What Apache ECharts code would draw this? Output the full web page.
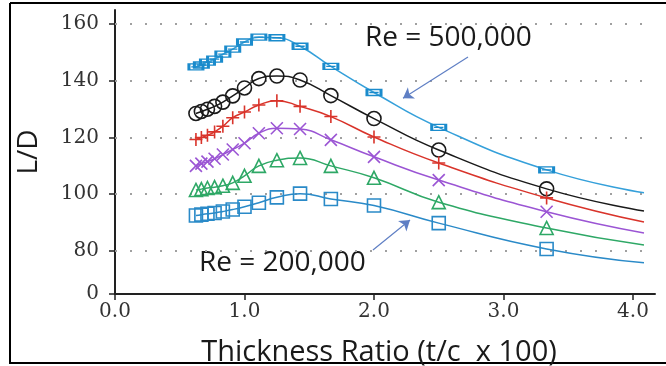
<!DOCTYPE html>
<html>
<head>
<meta charset="utf-8">
<script src="https://cdn.jsdelivr.net/npm/echarts@6/dist/echarts.min.js"></script>
<style>
html, body { margin: 0; padding: 0; background: #fff; }
#chart { width: 666px; height: 366px; }
</style>
</head>
<body>
<div id="chart"></div>
<script>
// t/c x 100 of the measured airfoils
const thickness = [0.625, 0.667, 0.714, 0.769, 0.833, 0.909, 1.0, 1.111, 1.25, 1.429, 1.667, 2.0, 2.5, 3.333];
// fitted curves run on past the last airfoil
const curveEndX = 4.085;

// L/D per Reynolds number, top (500,000) to bottom (200,000)
const ld500 = [144.9, 145.6, 146.6, 147.7, 149.4, 151.2, 153.7, 155.4, 155.2, 152.2, 145.1, 135.9, 123.6, 108.6];
const ld440 = [128.5, 129.2, 130.0, 131.0, 132.5, 134.7, 137.5, 140.8, 141.7, 140.3, 134.8, 126.7, 115.6, 101.9];
const ld380 = [119.3, 120.0, 120.8, 122.0, 124.0, 127.0, 129.0, 131.5, 133.0, 131.0, 127.4, 120.2, 111.0, 98.7];
const ld320 = [110.0, 110.8, 111.5, 112.5, 114.0, 115.8, 118.0, 121.5, 123.3, 123.0, 119.2, 113.2, 105.0, 93.8];
const ld260 = [101.5, 101.8, 102.2, 102.5, 103.0, 104.0, 106.5, 110.0, 112.0, 112.8, 110.0, 105.8, 97.2, 88.1];
const ld200 = [92.5, 92.8, 93.1, 93.4, 93.9, 94.6, 95.6, 97.0, 98.9, 100.2, 98.3, 96.0, 89.8, 80.7];
// where each fitted curve ends at the right
const curveEnd = [100.5, 94.1, 90.2, 86.3, 82.1, 75.8];

const xTicks = [0, 1, 2, 3, 4];
const yTicks = [80, 100, 120, 140, 160];
const yBreak = 64.8; // axis is broken: this spot is labelled "0"

// arrows from the annotations to the curves
const arrow500 = [[2.726, 148.4], [2.224, 133.9]];
const arrow200 = [[1.992, 80.35], [2.278, 90.9]];

const chart = echarts.init(document.getElementById('chart'));

const styles = [
    { color: '#1a8bcc', line: '#35a0da', symbol: 'path://M0,0H12V5H0ZM2,2.5H10', size: [14, 6], border: 2 },
    { color: '#1a1a1a', line: '#1a1a1a', symbol: 'circle', size: 14, border: 1.6 },
    { color: '#d9342b', line: '#d9342b', symbol: 'path://M5,0V10M0,5H10', size: 13, border: 1.6 },
    { color: '#9b55d4', line: '#9b55d4', symbol: 'path://M0,0L10,10M10,0L0,10', size: 12, border: 1.6 },
    { color: '#2ea866', line: '#2ea866', symbol: 'triangle', size: 13, border: 1.6 },
    { color: '#2a8ac8', line: '#2a8ac8', symbol: 'rect', size: 13, border: 1.6 }
];
const allData = [ld500, ld440, ld380, ld320, ld260, ld200];

function arrowLine(pts) {
    return [{ coord: pts[0] }, { coord: pts[1] }];
}

const series = allData.map((vals, i) => {
    const st = styles[i];
    const data = thickness.map((x, k) => [x, vals[k]]);
    data.push({ value: [curveEndX, curveEnd[i]], symbol: 'none' });
    const s = {
        type: 'line',
        data: data,
        smooth: 0.5,
        symbol: st.symbol,
        symbolSize: st.size,
        showAllSymbol: true,
        lineStyle: { color: st.line, width: 1.5 },
        itemStyle: { color: 'rgba(0,0,0,0)', borderColor: st.color, borderWidth: st.border },
        emphasis: { disabled: true },
        z: 3
    };
    if (i === 0) {
        s.markLine = {
            silent: true,
            symbol: ['none', 'arrow'],
            symbolSize: 10,
            label: { show: false },
            lineStyle: { color: '#5f7fc4', width: 1.2, type: 'solid' },
            data: [arrowLine(arrow500), arrowLine(arrow200)]
        };
    }
    if (i === 5) {
        // dotted grid lines
        s.markLine = {
            silent: true,
            z: 1,
            symbol: 'none',
            label: { show: false },
            lineStyle: { color: '#a0a0a0', width: 2, type: [2, 13] },
            data: yTicks.map(v => ({ yAxis: v }))
        };
    }
    return s;
});

const option = {
    animation: false,
    grid: { left: 115, right: 11, top: 10, bottom: 72 },
    xAxis: {
        type: 'value',
        min: 0,
        max: 4.17,
        axisLine: { lineStyle: { color: '#222', width: 2 } },
        axisTick: { show: true, length: 6, customValues: xTicks, lineStyle: { color: '#222', width: 1.5 } },
        axisLabel: {
            customValues: xTicks,
            formatter: v => v.toFixed(1),
            fontFamily: 'DejaVu Serif',
            fontSize: 20,
            color: '#333',
            margin: 8
        },
        splitLine: { show: false }
    },
    yAxis: {
        type: 'value',
        min: yBreak,
        max: 165,
        axisLine: { show: true, lineStyle: { color: '#222', width: 2 } },
        axisTick: { show: true, length: 6, customValues: [yBreak].concat(yTicks), lineStyle: { color: '#222', width: 1.5 } },
        axisLabel: {
            customValues: [yBreak].concat(yTicks),
            formatter: v => (v < 70 ? '0' : String(v)),
            fontFamily: 'DejaVu Serif',
            fontSize: 20,
            color: '#333',
            margin: 16
        },
        splitLine: { show: false }
    },
    graphic: [
        { type: 'line', shape: { x1: 10, y1: 3, x2: 10, y2: 364 }, style: { stroke: '#000', lineWidth: 2 } },
        { type: 'line', shape: { x1: 10, y1: 3, x2: 666, y2: 3 }, style: { stroke: '#000', lineWidth: 2 } },
        { type: 'line', shape: { x1: 10, y1: 363, x2: 666, y2: 363 }, style: { stroke: '#000', lineWidth: 2 } },
        {
            type: 'text', x: 29, y: 152, rotation: Math.PI / 2,
            style: { text: 'L/D', fontFamily: 'Open Sans', fontSize: 28, fill: '#1a1a1a', align: 'center', verticalAlign: 'middle' }
        },
        {
            type: 'text', x: 379, y: 353,
            style: { text: 'Thickness Ratio (t/c  x 100)', fontFamily: 'Open Sans', fontSize: 29, fill: '#1a1a1a', align: 'center', verticalAlign: 'middle' }
        },
        {
            type: 'text', x: 365, y: 38,
            style: { text: 'Re = 500,000', fontFamily: 'Open Sans', fontSize: 28, fill: '#1a1a1a', align: 'left', verticalAlign: 'middle' }
        },
        {
            type: 'text', x: 199, y: 263,
            style: { text: 'Re = 200,000', fontFamily: 'Open Sans', fontSize: 28, fill: '#1a1a1a', align: 'left', verticalAlign: 'middle' }
        }
    ],
    series: series
};

chart.setOption(option);
</script>
</body>
</html>
